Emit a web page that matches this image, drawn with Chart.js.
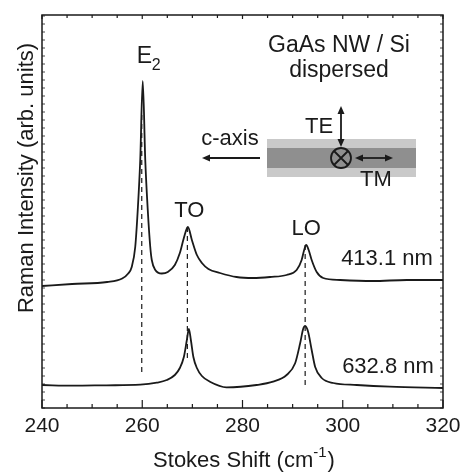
<!DOCTYPE html>
<html>
<head>
<meta charset="utf-8">
<style>
  html, body { margin: 0; padding: 0; background: #fff; }
  #c { display: block; }
</style>
<script src="https://cdn.jsdelivr.net/npm/chart.js@4"></script>
</head>
<body>
<canvas id="c" width="461" height="472"></canvas>
<script>
// Raman spectra (intensity in arb. units)
const shift413 = [240, 246, 253, 256, 257.2, 257.9, 258.6, 259.1, 259.6, 260.1, 260.6, 261.1, 261.6, 261.9, 262.6, 263.9, 265.1, 266.5, 267.5, 268.3, 269.1, 269.9, 270.9, 271.9, 273.2, 275.5, 278.8, 282.1, 285.5, 288.8, 290.8, 291.8, 292.3, 292.7, 293.2, 293.8, 294.8, 296.1, 299.5, 306, 312.8, 320];
const int413 = [122, 124, 126, 129.5, 134.5, 141, 161, 198, 248, 327, 248, 198, 161, 148, 138, 134.5, 136, 143, 155, 170, 181, 168, 153, 145, 139, 135, 131, 130, 131, 133, 138, 148, 158, 163, 158, 148, 136, 130, 128, 127, 128, 128];

const shift633 = [240, 246.2, 252.9, 259.6, 262.9, 264.9, 266.5, 267.5, 268.3, 268.9, 269.3, 269.7, 270.2, 270.9, 271.9, 273.5, 276.8, 282.8, 286.1, 288.8, 290.5, 291.5, 292.1, 292.5, 293.1, 293.8, 294.5, 295.8, 298.1, 302.8, 309.4, 320];
const int633 = [23, 22.3, 22.7, 23.3, 25.3, 28, 33, 40, 51, 68, 79, 68, 51, 40, 32, 26.3, 20.7, 23, 26.3, 33, 44.7, 64.7, 79, 82, 76, 58, 41, 30, 25, 23, 21.3, 20];

// phonon modes: position, top and bottom of the dashed guide
const modeNames = ['E2', 'TO', 'LO'];
const modeShift = [259.9, 269.0, 292.5];
const modeTop = [293, 181, 163];
const modeBottom = [33, 46, 23];

const xTicks = [240, 260, 280, 300, 320];

const ink = '#1a1a1a';
const font = 'Arial, "Liberation Sans", Helvetica, sans-serif';

const pts = (xs, ys) => xs.map((x, i) => ({ x: x, y: ys[i] }));

const datasets = [
    { data: pts(shift413, int413), borderColor: ink, borderWidth: 1.8, pointRadius: 0, cubicInterpolationMode: 'monotone' },
    { data: pts(shift633, int633), borderColor: ink, borderWidth: 1.8, pointRadius: 0, cubicInterpolationMode: 'monotone' }
];
modeShift.forEach((s, i) => {
    datasets.push({
        data: [{ x: s, y: modeTop[i] }, { x: s, y: modeBottom[i] }],
        borderColor: ink, borderWidth: 1.2, borderDash: [5, 4], pointRadius: 0
    });
});

function arrowHead(ctx, x, y, dx, dy) {
    // filled head pointing along (dx,dy)
    const len = 8, half = 3.5;
    const px = -dy, py = dx;
    ctx.beginPath();
    ctx.moveTo(x, y);
    ctx.lineTo(x - dx * len + px * half, y - dy * len + py * half);
    ctx.lineTo(x - dx * len - px * half, y - dy * len - py * half);
    ctx.closePath();
    ctx.fill();
}

// frame, inner ticks, labels and the nanowire sketch
const decor = {
    id: 'decor',
    afterDatasetsDraw(chart) {
        const ctx = chart.ctx;
        const a = chart.chartArea;
        const xs = chart.scales.x, ys = chart.scales.y;
        ctx.save();
        ctx.strokeStyle = ink;
        ctx.fillStyle = ink;

        // box
        ctx.lineWidth = 1.5;
        ctx.strokeRect(a.left, a.top, a.right - a.left, a.bottom - a.top);

        // x ticks, every 5 with majors every 20
        ctx.lineWidth = 1.2;
        for (let v = 240; v <= 320; v += 5) {
            const px = xs.getPixelForValue(v);
            const major = v % 20 === 0;
            ctx.beginPath();
            ctx.moveTo(px, a.bottom);
            ctx.lineTo(px, a.bottom - (major ? 8 : 4));
            ctx.moveTo(px, a.top);
            ctx.lineTo(px, a.top + (major ? 4 : 3));
            ctx.stroke();
        }
        // y minor ticks
        ctx.lineWidth = 0.8;
        for (let v = 0; v <= 393; v += 8) {
            const py = ys.getPixelForValue(v);
            ctx.beginPath();
            ctx.moveTo(a.left, py);
            ctx.lineTo(a.left + 3, py);
            ctx.moveTo(a.right, py);
            ctx.lineTo(a.right - 3, py);
            ctx.stroke();
        }

        // nanowire sketch
        ctx.fillStyle = '#c9c9c9';
        ctx.fillRect(267, 139, 149, 38);
        ctx.fillStyle = '#8f8f8f';
        ctx.fillRect(267, 148, 149, 20);
        ctx.fillStyle = ink;
        ctx.lineWidth = 1.8;
        // crossed circle
        ctx.beginPath();
        ctx.arc(341, 158, 10, 0, Math.PI * 2);
        ctx.stroke();
        ctx.beginPath();
        ctx.moveTo(334, 151); ctx.lineTo(348, 165);
        ctx.moveTo(348, 151); ctx.lineTo(334, 165);
        ctx.stroke();
        // TE arrow
        ctx.beginPath();
        ctx.moveTo(341, 112); ctx.lineTo(341, 141);
        ctx.stroke();
        arrowHead(ctx, 341, 106, 0, -1);
        arrowHead(ctx, 341, 147, 0, 1);
        // TM arrow
        ctx.beginPath();
        ctx.moveTo(361, 158); ctx.lineTo(387, 158);
        ctx.stroke();
        arrowHead(ctx, 355, 158, -1, 0);
        arrowHead(ctx, 393, 158, 1, 0);
        // c-axis arrow
        ctx.beginPath();
        ctx.moveTo(260, 158); ctx.lineTo(208, 158);
        ctx.stroke();
        arrowHead(ctx, 202, 158, -1, 0);

        // texts
        ctx.textBaseline = 'alphabetic';
        ctx.textAlign = 'center';
        ctx.font = '23px ' + font;
        ctx.fillText('GaAs NW / Si', 339, 52);
        ctx.fillText('dispersed', 339, 77);
        ctx.font = '22px ' + font;
        ctx.fillText('c-axis', 230, 145);
        ctx.fillText('TE', 319, 133);
        ctx.fillText('TM', 376, 186);
        ctx.fillText('413.1 nm', 387, 265);
        ctx.fillText('632.8 nm', 388, 373);

        // mode labels above the peaks
        const labelY = [63, 217, 235];
        modeNames.forEach((n, i) => {
            const px = xs.getPixelForValue(modeShift[i]);
            if (n === 'E2') {
                ctx.textAlign = 'left';
                ctx.font = '23px ' + font;
                ctx.fillText('E', px - 5, labelY[i]);
                ctx.font = '16px ' + font;
                ctx.fillText('2', px + 10, labelY[i] + 7);
            } else {
                ctx.textAlign = 'center';
                ctx.font = '22px ' + font;
                ctx.fillText(n, px + (n === 'TO' ? 2 : 1), labelY[i]);
            }
        });

        // x title with superscript
        ctx.textAlign = 'left';
        ctx.font = '22px ' + font;
        const t1 = 'Stokes Shift (cm', t3 = ')';
        const w1 = ctx.measureText(t1).width, w3 = ctx.measureText(t3).width;
        ctx.font = '15px ' + font;
        const w2 = ctx.measureText('-1').width;
        let x0 = 243.5 - (w1 + w2 + w3) / 2;
        ctx.font = '22px ' + font;
        ctx.fillText(t1, x0, 467);
        ctx.font = '15px ' + font;
        ctx.fillText('-1', x0 + w1, 457);
        ctx.font = '22px ' + font;
        ctx.fillText(t3, x0 + w1 + w2 + 1, 467);

        // y title
        ctx.translate(33, 178);
        ctx.rotate(-Math.PI / 2);
        ctx.textAlign = 'center';
        ctx.fillText('Raman Intensity (arb. units)', 0, 0);

        ctx.restore();
    }
};

new Chart(document.getElementById('c'), {
    type: 'line',
    data: { datasets: datasets },
    options: {
        responsive: false,
        animation: false,
        devicePixelRatio: 1,
        layout: { padding: { left: 42, right: 18, top: 15, bottom: 0 } },
        plugins: { legend: { display: false }, tooltip: { enabled: false } },
        scales: {
            x: {
                type: 'linear',
                min: 240,
                max: 320,
                afterBuildTicks: s => { s.ticks = xTicks.map(v => ({ value: v })); },
                afterFit: s => { s.height = 64; s.paddingLeft = 0; s.paddingRight = 0; },
                grid: { display: false, drawTicks: false },
                border: { display: false },
                ticks: { color: ink, padding: 6, font: { size: 21, family: font }, maxRotation: 0 }
            },
            y: { display: false, min: 0, max: 393 }
        }
    },
    plugins: [decor]
});
</script>
</body>
</html>
